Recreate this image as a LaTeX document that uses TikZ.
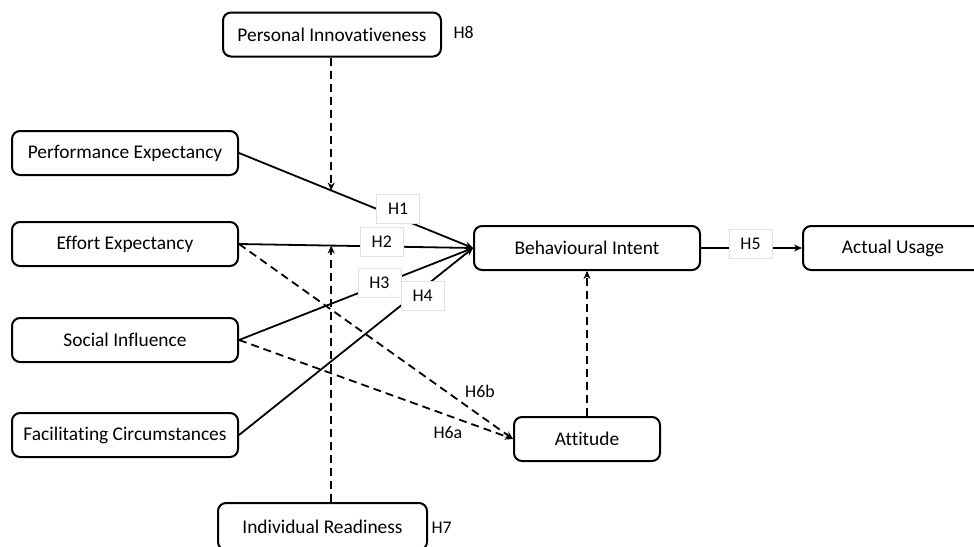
\documentclass[tikz,border=0pt]{standalone}
\usepackage{fontspec}
\setmainfont{Carlito}[Ligatures=NoCommon]
\usetikzlibrary{arrows.meta,positioning}

\begin{document}
\begin{tikzpicture}[x=1pt, y=-1pt, >={Stealth[length=8pt,width=7pt]},
  font=\fontsize{19.4}{22}\selectfont,
  construct/.style={draw, line width=2pt, rounded corners=8pt, fill=white, minimum height=44pt, inner sep=0pt},
  hlab/.style={draw=black!12, fill=white, line width=0.6pt, font=\fontsize{17.8}{20}\selectfont, minimum width=43pt, minimum height=29pt, inner sep=0pt},
  plainlab/.style={font=\fontsize{17.8}{20}\selectfont},
  link/.style={->, line width=1.8pt},
  dlink/.style={->, line width=1.8pt, dash pattern=on 8pt off 5pt}]
  \useasboundingbox (0,0) rectangle (974,546);

  % constructs
  \node[construct, minimum width=218pt] (pi) at (332,34.5) {Personal Innovativeness};
  \node[construct, minimum width=226pt] (pe) at (125,153) {Performance Expectancy};
  \node[construct, minimum width=226pt] (ee) at (125,244) {Effort Expectancy};
  \node[construct, minimum width=226pt] (si) at (125,340) {Social Influence};
  \node[construct, minimum width=226pt] (fc) at (125,435) {Facilitating Circumstances};
  \node[construct, minimum width=226pt] (bi) at (587,248) {Behavioural Intent};
  \node[construct, minimum width=180pt] (au) at (893,248) {Actual Usage};
  \node[construct, minimum width=146pt] (att) at (587,439) {Attitude};
  \node[construct, minimum width=209pt, minimum height=47pt] (ir) at (322.5,526.5) {Individual Readiness};
  \node[plainlab, right=8pt of pi, yshift=2pt] (h8) {H8};
  \node[plainlab, right=0pt of ir, yshift=-1pt] (h7) {H7};

  % hypotheses
  \draw[link] (pe.east) -- coordinate[pos=0.394] (pe-mid) node[hlab, pos=0.68, yshift=9pt] (h1) {H1} (bi.west);
  \draw[link] (ee.east) -- coordinate[pos=0.394] (ee-mid) node[hlab, pos=0.61, yshift=5pt] (h2) {H2} (bi.west);
  \draw[link] (si.east) -- node[hlab, pos=0.60, yshift=2.5pt] (h3) {H3} (bi.west);
  \draw[link] (fc.east) -- node[hlab, pos=0.785, yshift=-7.5pt] (h4) {H4} (bi.west);
  \draw[link] (bi.east) -- node[hlab, pos=0.49, yshift=4.5pt] (h5) {H5} (au.west);
  \draw[dlink] (ee.east) -- node[plainlab, pos=0.81, above right] (h6b) {H6b} (att.west);
  \draw[dlink] (si.east) -- node[plainlab, pos=0.83, below left] (h6a) {H6a} (att.west);
  \draw[dlink] (att.north) -- (bi.south);
  \draw[dlink] (pi.south -| pe-mid) -- (pe-mid);
  \draw[dlink] (ir.north -| ee-mid) -- (ee-mid);
\end{tikzpicture}
\end{document}
